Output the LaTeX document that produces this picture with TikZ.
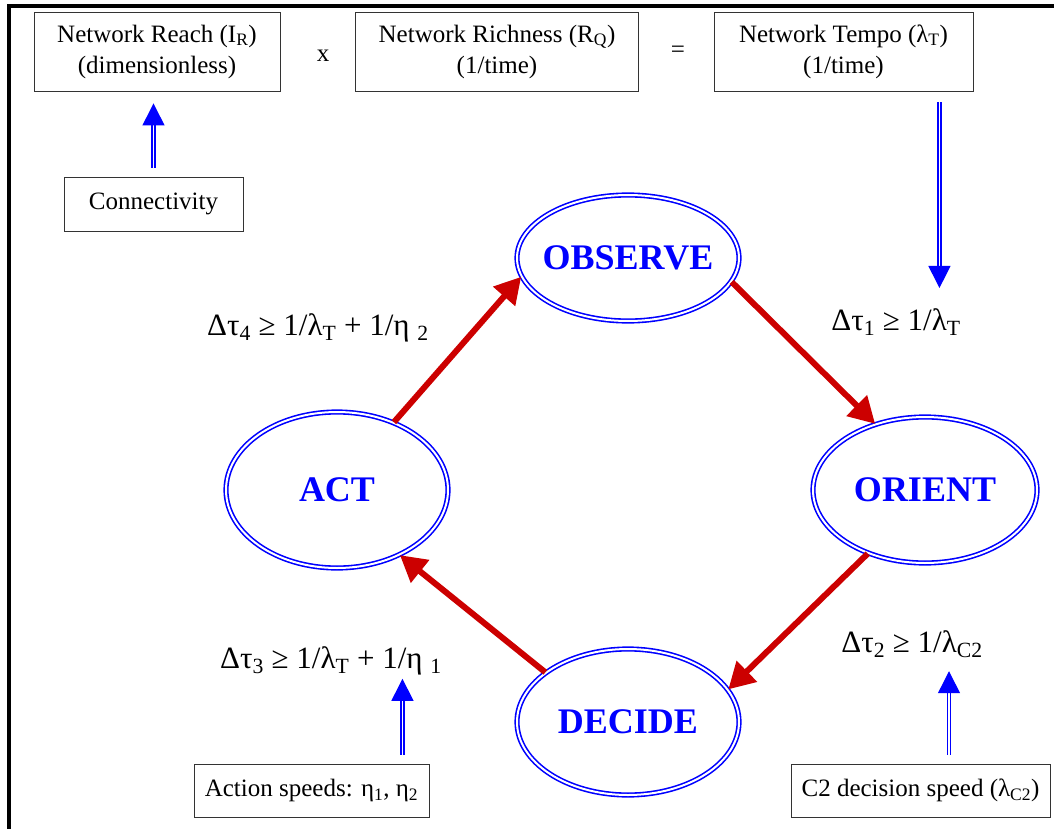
\documentclass[tikz,border=0pt]{standalone}
\usepackage{fontspec}
\setmainfont{Liberation Serif}
\usetikzlibrary{
  arrows.meta,
  positioning,
  shapes.geometric
}
\definecolor{ink}{HTML}{000000}
\definecolor{loopred}{HTML}{CC0000}
\definecolor{phaseblue}{HTML}{0000FF}
\newcommand{\lowsub}[1]{\textsubscript{#1}}
\tikzset{
  every node/.style={text=ink},
  box/.style={
    draw=ink!80,
    line width=0.9pt,
    align=center,
    inner sep=0pt,
    font=\fontsize{25}{31}\selectfont
  },
  op/.style={font=\fontsize{25}{28}\selectfont},
  phase/.style={
    ellipse,
    draw=phaseblue,
    double=white,
    double distance=2pt,
    line width=1.6pt,
    inner xsep=-12pt,
    inner ysep=0pt,
    text=phaseblue,
    font=\fontsize{36}{40}\selectfont\bfseries
  },
  cycle/.style={-{Triangle[length=26pt,width=28pt]}, line width=6pt, draw=loopred},
  feed/.style={
    -{Triangle[length=22pt,width=22pt]},
    draw=phaseblue,
    double=white,
    double distance=1.8pt,
    line width=1.3pt
  },
  annot/.style={font=\fontsize{31}{34}\selectfont, anchor=base, inner sep=0pt}
}
\begin{document}
\begin{tikzpicture}[x=1pt, y=-1pt]
  \useasboundingbox (0,0) rectangle (1054,829);
  % Page edge
  \draw[line width=4pt] (9,829) -- (9,6.5) -- (1054,6.5);

  % Network terms
  \node[box, minimum width=246pt, minimum height=79pt] (reach) at (157,51.5)
    {Network Reach (I\lowsub{R})\\(dimensionless)};
  \node[op] (times) at (323,56) {x};
  \node[box, minimum width=283pt, minimum height=79pt] (rich) at (497,51.5)
    {Network Richness (R\lowsub{Q})\\(1/time)};
  \node[op] (equals) at (678,52) {=};
  \node[box, minimum width=259pt, minimum height=79pt] (tempo) at (843.5,51.5)
    {Network Tempo (λ\lowsub{T})\\(1/time)};

  % Inputs
  \node[box, minimum width=179pt, minimum height=54pt] (conn) at (153.5,204) {Connectivity};
  \node[box, minimum width=235pt, minimum height=53pt] (action) at (311.5,790.5)
    {Action speeds: η\lowsub{1}, η\lowsub{2}};
  \node[box, minimum width=259pt, minimum height=53pt] (ctwo) at (920.5,790.5)
    {C2 decision speed (λ\lowsub{C2})};

  % OODA phases
  \node[phase, minimum width=222pt, minimum height=126pt] (observe) at (628,258) {OBSERVE};
  \node[phase, minimum width=224pt, minimum height=146pt] (orient) at (925,490) {ORIENT};
  \node[phase, minimum width=222pt, minimum height=146pt] (decide) at (628,722) {DECIDE};
  \node[phase, minimum width=222pt, minimum height=156pt] (act) at (337,490) {ACT};

  % Delays
  \node[annot] (d1) at (896,330) {Δτ\lowsub{1} ≥ 1/λ\lowsub{T}};
  \node[annot] (d2) at (912,652) {Δτ\lowsub{2} ≥ 1/λ\lowsub{C2}};
  \node[annot] (d3) at (331,668) {Δτ\lowsub{3} ≥ 1/λ\lowsub{T} + 1/η \lowsub{1}};
  \node[annot] (d4) at (318,335) {Δτ\lowsub{4} ≥ 1/λ\lowsub{T} + 1/η \lowsub{2}};

  % Loop
  \draw[cycle] (act.50) -- (observe.190);
  \draw[cycle] (observe.347) -- (orient.127);
  \draw[cycle] (orient.228) -- (decide.18);
  \draw[cycle] (decide.149) -- (act.314);

  % Feeds
  \coordinate (tempoOut) at ([xshift=-34pt]tempo.south east);
  \coordinate (actionOut) at ([xshift=-27pt]action.north east);
  \coordinate (ctwoOut) at ([xshift=28.5pt]ctwo.north);
  \draw[feed, shorten <=9pt, shorten >=12pt] (conn.north) -- (conn.north |- reach.south);
  \draw[feed, shorten <=11pt, shorten >=20pt] (tempoOut) -- (tempoOut |- d1.north);
  \draw[feed, shorten <=9pt, shorten >=4pt] (actionOut) -- (actionOut |- d3.south);
  \draw[feed, shorten <=9pt, shorten >=13pt] (ctwoOut) -- (ctwoOut |- d2.south);
\end{tikzpicture}
\end{document}
